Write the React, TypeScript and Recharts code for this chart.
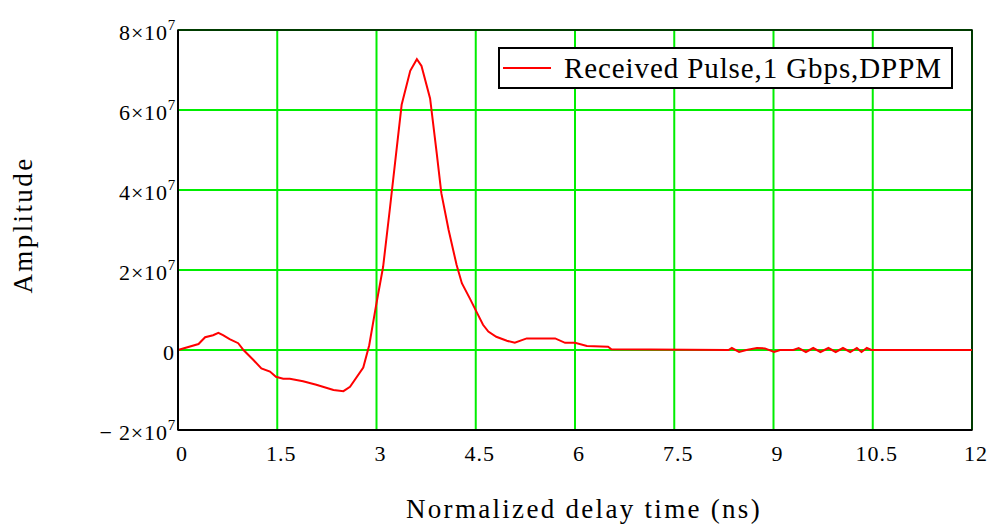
import React from "react";
import { LineChart, Line, XAxis, YAxis, CartesianGrid, ReferenceArea } from "recharts";

const timeNs = [0, 0.31, 0.41, 0.53, 0.61, 0.68, 0.78, 0.91, 0.99, 1.14, 1.26, 1.39, 1.48, 1.59, 1.69, 1.89, 2.09, 2.35, 2.5, 2.6, 2.8, 2.89, 2.99, 3.1, 3.2, 3.28, 3.38, 3.51, 3.61, 3.68, 3.81, 3.91, 3.98, 4.09, 4.21, 4.29, 4.41, 4.51, 4.61, 4.69, 4.81, 4.97, 5.09, 5.27, 5.7, 5.85, 6.0, 6.18, 6.5, 6.55, 8.32, 8.37, 8.48, 8.59, 8.75, 8.87, 9.01, 9.1, 9.3, 9.38, 9.49, 9.6, 9.71, 9.83, 9.94, 10.05, 10.16, 10.26, 10.33, 10.41, 10.48, 12];
const amplitude = [0, 0.15e7, 0.32e7, 0.37e7, 0.43e7, 0.37e7, 0.27e7, 0.17e7, 0, -0.25e7, -0.46e7, -0.54e7, -0.67e7, -0.72e7, -0.72e7, -0.78e7, -0.87e7, -1.0e7, -1.03e7, -0.92e7, -0.44e7, 0.12e7, 1.08e7, 2.08e7, 3.5e7, 4.67e7, 6.13e7, 6.98e7, 7.27e7, 7.1e7, 6.29e7, 4.92e7, 3.92e7, 3.0e7, 2.13e7, 1.67e7, 1.29e7, 0.96e7, 0.63e7, 0.46e7, 0.33e7, 0.23e7, 0.18e7, 0.29e7, 0.29e7, 0.18e7, 0.18e7, 0.1e7, 0.08e7, 0.02e7, 0, 0.05e7, -0.05e7, 0, 0.05e7, 0.04e7, -0.05e7, 0, 0, 0.05e7, -0.05e7, 0.05e7, -0.05e7, 0.05e7, -0.05e7, 0.05e7, -0.05e7, 0.05e7, -0.05e7, 0.05e7, 0, 0];

const xTicks = [0, 1.5, 3, 4.5, 6, 7.5, 9, 10.5, 12];
const yTicks = [-2e7, 0, 2e7, 4e7, 6e7, 8e7];
const seriesName = "Received Pulse,1 Gbps,DPPM";
const xTitle = "Normalized delay time (ns)";
const yTitle = "Amplitude";

const data = timeNs.map((t, i) => ({ t, a: amplitude[i] }));
const FONT = "'Liberation Serif', 'Times New Roman', serif";

const YTick = (props: any) => {
  const { x, y, payload } = props;
  const v = payload.value as number;
  if (v === 0) {
    return (
      <text x={x} y={y + 10} textAnchor="end" fontFamily={FONT} fontSize={22} fill="#000">0</text>
    );
  }
  const m = v / 1e7;
  const lab = (m < 0 ? "\u2212 " + Math.abs(m) : String(m)) + "\u00d710";
  return (
    <text x={x + 2} y={y + 10} textAnchor="end" fontFamily={FONT} fontSize={22} letterSpacing={0.8} fill="#000">
      {lab}
      <tspan dy={-10} fontSize={15}>7</tspan>
    </text>
  );
};

const XTick = (props: any) => {
  const { x, y, payload } = props;
  return (
    <text x={x + 4} y={y + 23} textAnchor="middle" fontFamily={FONT} fontSize={22} letterSpacing={1} fill="#000">
      {String(payload.value)}
    </text>
  );
};

export default function App() {
  return (
    <div style={{ position: "absolute", left: 0, top: 0, width: 992, height: 528, background: "#fff" }}>
      <LineChart width={992} height={528} data={data} margin={{ top: 30, right: 20, left: 0, bottom: 0 }}>
        <CartesianGrid stroke="#00ee00" strokeWidth={2} verticalValues={xTicks} horizontalValues={yTicks} />
        <XAxis
          dataKey="t"
          type="number"
          domain={[0, 12]}
          ticks={xTicks}
          height={98}
          tickLine={false}
          axisLine={{ stroke: "#000", strokeWidth: 2 }}
          tick={<XTick />}
          interval={0}
          label={{
            content: () => (
              <text x={584} y={518} textAnchor="middle" fontFamily={FONT} fontSize={27} letterSpacing={2.3} fill="#000">{xTitle}</text>
            ),
          }}
        />
        <YAxis
          type="number"
          domain={[-2e7, 8e7]}
          ticks={yTicks}
          width={178}
          tickLine={false}
          tickSize={0}
          tickMargin={4}
          axisLine={{ stroke: "#000", strokeWidth: 2 }}
          tick={<YTick />}
          interval={0}
          label={{
            content: () => (
              <text transform="translate(32,225) rotate(-90)" textAnchor="middle" fontFamily={FONT} fontSize={27} letterSpacing={2.4} fill="#000">{yTitle}</text>
            ),
          }}
        />
        <ReferenceArea x1={0} x2={12} y1={-2e7} y2={8e7} fill="none" stroke="#000" strokeWidth={1.5} ifOverflow="visible" />
        <Line dataKey="a" stroke="#ff0000" strokeWidth={2} dot={false} isAnimationActive={false} type="linear" name={seriesName} />
      </LineChart>
      <div style={{ position: "absolute", left: 498, top: 47, width: 455, height: 42, border: "2px solid #000", background: "#fff", boxSizing: "border-box", display: "flex", alignItems: "center", fontFamily: FONT, fontSize: 29, letterSpacing: 0.9, whiteSpace: "nowrap", overflow: "hidden" }}>
        <div style={{ width: 48, height: 2, background: "#ff0000", marginLeft: 3, marginRight: 13, flex: "none" }} />
        <span style={{ lineHeight: "38px" }}>{seriesName}</span>
      </div>
    </div>
  );
}
